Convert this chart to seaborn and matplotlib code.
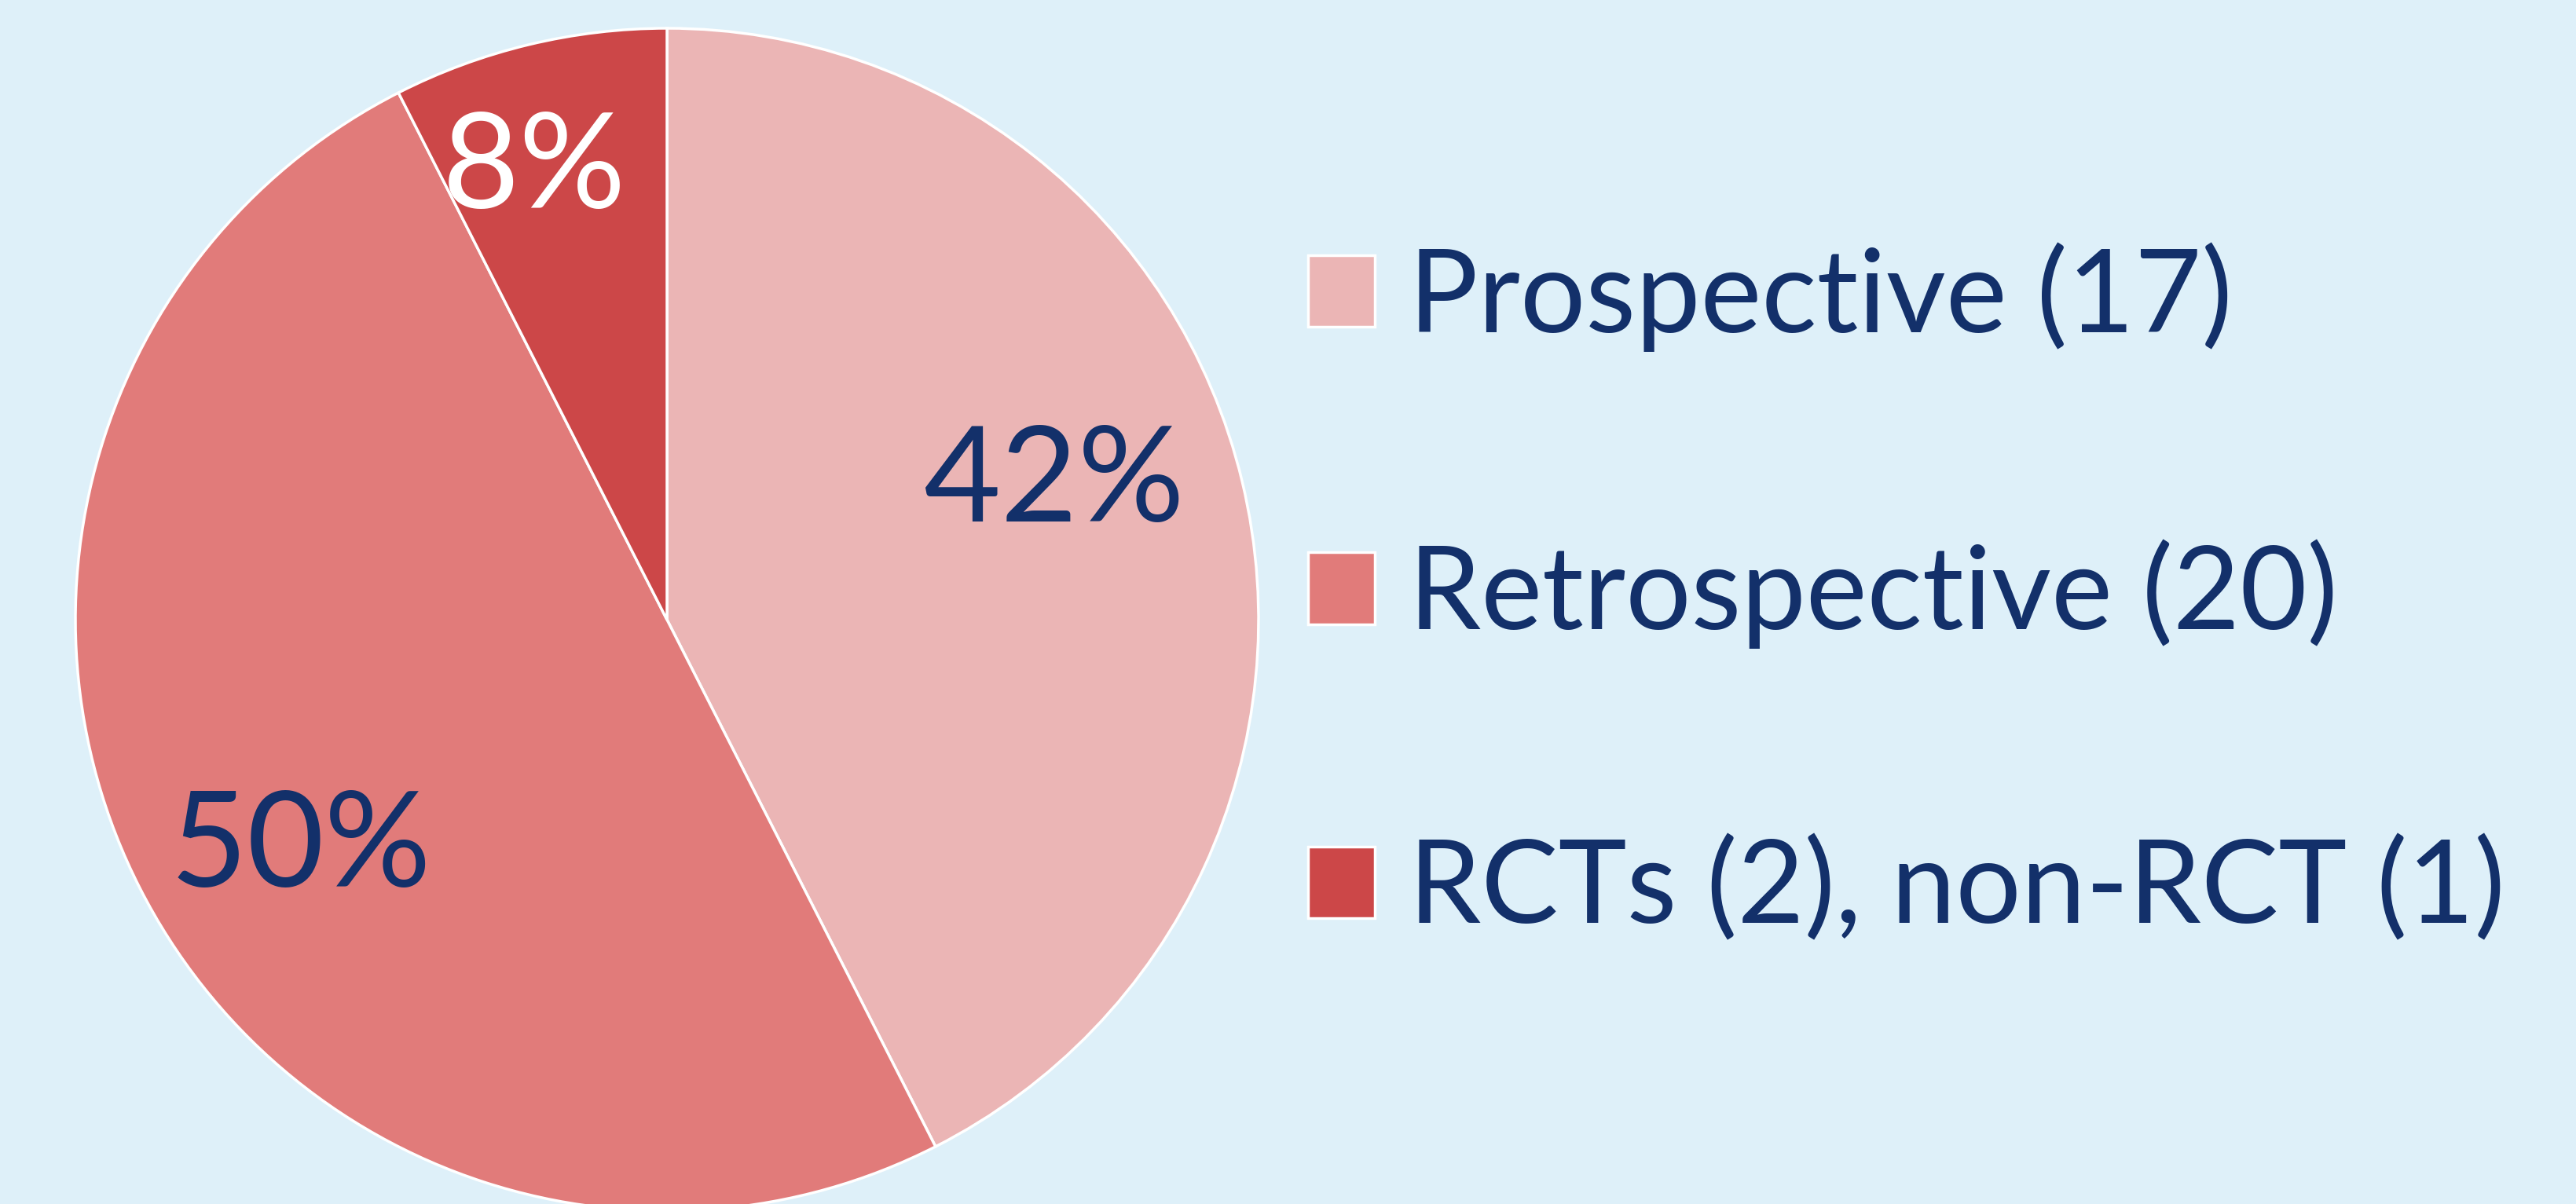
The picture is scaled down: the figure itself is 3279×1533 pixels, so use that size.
import matplotlib
matplotlib.use("Agg")
import numpy as np
import matplotlib.pyplot as plt
import seaborn as sns

# Data
categories = ["Prospective (17)", "Retrospective (20)", "RCTs (2), non-RCT (1)"]
counts = [17, 20, 3]
pct_labels = ["42%", "50%", "8%"]
slice_colors = ["#EBB5B5", "#E17B7A", "#CC4748"]
pct_colors = ["#13306A", "#13306A", "white"]

# label placement (fraction of radius, angular nudge in degrees)
label_dist = [0.70, 0.72, 0.81]
label_nudge = [7.3, 3.8, 2.6]

bg = "#DEF0F9"
navy = "#13306A"

sns.set_theme(style="white")
plt.rcParams['font.family'] = ['Lato', 'DejaVu Sans']

W, H = 3280, 1533
fig = plt.figure(figsize=(W / 100, H / 100), dpi=100, facecolor=bg)
ax = fig.add_axes([0, 0, 1, 1])
ax.set_facecolor(bg)

palette = sns.color_palette(slice_colors)
idx = iter(range(len(pct_labels)))
wedges, texts, autotexts = ax.pie(
    counts,
    colors=palette,
    startangle=90,
    counterclock=False,
    radius=753,
    center=(849, 744),
    autopct=lambda p: pct_labels[next(idx)],
    pctdistance=0.73,
    wedgeprops=dict(edgecolor="white", linewidth=2.5),
    textprops=dict(fontsize=122),
    frame=True,
)
ax.set_xlim(0, W)
ax.set_ylim(0, H)
ax.set_aspect("equal")
ax.axis("off")

for w, t, c, d, n in zip(wedges, autotexts, pct_colors, label_dist, label_nudge):
    t.set_color(c)
    t.set_va("center_baseline")
    ang = np.deg2rad((w.theta1 + w.theta2) / 2 + n)
    cx, cy = w.center
    t.set_position((cx + d * w.r * np.cos(ang), cy + d * w.r * np.sin(ang)))

leg = ax.legend(
    wedges, categories,
    loc="center left",
    bbox_to_anchor=(0.5076, 0.508),
    frameon=False,
    fontsize=106,
    handlelength=0.58,
    handleheight=0.58,
    handletextpad=0.29,
    labelspacing=1.62,
    borderpad=0,
    borderaxespad=0,
)
for t in leg.get_texts():
    t.set_color(navy)

fig.savefig("out.png", dpi=100, facecolor=bg)
